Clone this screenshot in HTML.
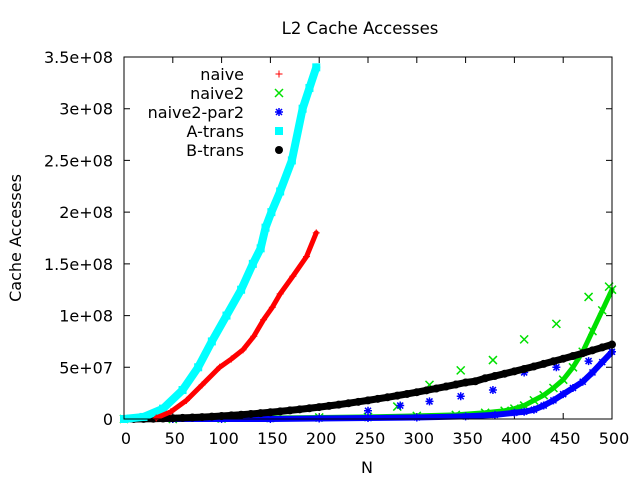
<!DOCTYPE html>
<html><head><meta charset="utf-8"><style>
body{margin:0;background:#fff}
svg{display:block;font-family:"DejaVu Sans","Liberation Sans",sans-serif}
</style></head><body>
<svg id="chart" width="640" height="480">
<rect width="640" height="480" fill="#fff"/>
<text x="360" y="34" font-size="16.5" text-anchor="middle">L2 Cache Accesses</text>
<text x="367" y="473" font-size="16" text-anchor="middle">N</text>
<text transform="translate(21,238) rotate(-90)" font-size="16" text-anchor="middle">Cache Accesses</text>
<g id="axes"></g>
<g id="series"></g>
<rect x="124" y="57" width="488" height="362" fill="none" stroke="#000"/>
<g id="legend"></g>
</svg>
<script>
const xTicks=[0,50,100,150,200,250,300,350,400,450,500];
const yTicks=[0,5e7,1e8,1.5e8,2e8,2.5e8,3e8,3.5e8];
const yTickLabels=["0","5e+07","1e+08","1.5e+08","2e+08","2.5e+08","3e+08","3.5e+08"];
const naiveN=[33,48,64,80,98,110,122,133,143,152,160,173,187,197];
const naiveV=[1,7,18,33,50,58,67,80,96,108,121,138,157,180];
const atransN=[0,20,40,60,76,90,105,120,132,140,145,151,160,172,183,190,197];
const atransV=[0,2,10,28,50,75,100,125,150,165,185,200,220,250,300,320,340];
const btransN=[0,10,20,30,40,50,60,70,80,90,100,110,120,130,140,150,160,170,180,190,200,210,220,230,240,250,260,270,280,290,300,310,320,330,340,350,360,370,380,390,400,410,420,430,440,450,460,470,480,490,500];
const btransV=[0,.03,.12,.26,.46,.72,1.04,1.41,1.84,2.33,2.88,3.48,4.15,4.87,5.64,6.48,7.37,8.32,9.33,10.4,11.5,12.7,13.9,15.2,16.6,18,19.5,21,22.6,24.2,25.9,27.7,29.5,31.4,33.3,35.3,36.5,39.4,41.6,43.8,46.1,48.4,50.8,53.3,55.8,58.3,60.9,63.6,66.4,69.2,72];
const naive2N=[0,50,100,150,200,250,300,340,370,390,400,410,420,430,440,450,460,470,480,490,500];
const naive2V=[0,0,0.5,1,1.5,2,3,4,6,8,10,13,18,23,30,38,50,65,85,105,125];
const naive2OutN=[280,313,345,378,410,443,476,497];
const naive2OutV=[12,33,47,57,77,92,118,128];
const par2N=[0,50,100,150,200,250,300,350,380,400,410,420,430,440,450,460,470,480,490,500];
const par2V=[0,0,0,0,0.5,1,1.5,2.5,4,6,7,9,13,18,24,30,36,45,55,65];
const par2OutN=[250,283,313,345,378,410,443,476];
const par2OutV=[8,13,17,22,28,45,50,56];
const X=n=>124+n*488/500;
const Y=v=>419-v*362/3.5e8;
const M=v=>Y(v*1e6);
const NS="http://www.w3.org/2000/svg";
function mk(tag,attrs,parent){const e=document.createElementNS(NS,tag);for(const k in attrs)e.setAttribute(k,attrs[k]);parent.appendChild(e);return e;}
const axes=document.getElementById('axes');
xTicks.forEach(t=>{
  const x=X(t);
  const l=mk('path',{d:`M${x},419v-6M${x},57v6`,stroke:'#000'},axes);
  
  
  const tx=mk('text',{x:x+2,y:444,'font-size':16,'text-anchor':'middle'},axes);
  tx.textContent=t;
  
  
});
yTicks.forEach((t,i)=>{
  const y=Y(t);
  const l=mk('path',{d:`M124,${y}h6M612,${y}h-6`,stroke:'#000'},axes);
  
  
  const tx=mk('text',{x:113,y:y+6,'font-size':16,'text-anchor':'end'},axes);
  tx.textContent=yTickLabels[i];
  
  
});
const sg=document.getElementById('series');
function line(ns,vs,color,w,name){
  const d=ns.map((n,i)=>(i?'L':'M')+X(n)+','+M(vs[i])).join('');
  const p=mk('path',{d:d,fill:'none',stroke:color,'stroke-width':w,'stroke-linecap':'round','stroke-linejoin':'round'},sg);
  
  
}
function marker(type,x,y,color,g){
  let e;
  if(type==='plus')e=mk('path',{d:`M${x-3.5},${y}h7M${x},${y-3.5}v7`,stroke:color},g);
  else if(type==='x')e=mk('path',{d:`M${x-4},${y-4}l8,8M${x-4},${y+4}l8,-8`,stroke:color,'stroke-width':1.5},g);
  else if(type==='star')e=mk('path',{d:`M${x-4},${y}h8M${x},${y-4}v8M${x-3},${y-3}l6,6M${x-3},${y+3}l6,-6`,stroke:color,'stroke-width':1.5},g);
  else if(type==='sq')e=mk('rect',{x:x-4,y:y-4,width:8,height:8,fill:color},g);
  else e=mk('circle',{cx:x,cy:y,r:4,fill:color},g);
  return e;
}
function points(ns,vs,type,color,name){
  ns.forEach((n,i)=>{
    const e=marker(type,X(n),M(vs[i]),color,sg);
    
    
  });
}
line(naive2N,naive2V,'#00e000',5,'naive2-line');
points(naive2N,naive2V,'x','#00e000','naive2-point');
points(naive2OutN,naive2OutV,'x','#00e000','naive2-outlier');
line(par2N,par2V,'#0000ff',6,'naive2-par2-line');
points(par2N,par2V,'star','#0000ff','naive2-par2-point');
points(par2OutN,par2OutV,'star','#0000ff','naive2-par2-outlier');
line(btransN,btransV,'#000',7,'b-trans-line');
points(btransN,btransV,'dot','#000','b-trans-point');
line(atransN,atransV,'#00ffff',8,'a-trans-line');
points(atransN,atransV,'sq','#00ffff','a-trans-point');
line(naiveN,naiveV,'#ff0000',5,'naive-line');
points(naiveN,naiveV,'plus','#ff0000','naive-point');
const lg=document.getElementById('legend');
const entries=[['naive','plus','#ff0000'],['naive2','x','#00e000'],['naive2-par2','star','#0000ff'],['A-trans','sq','#00ffff'],['B-trans','dot','#000']];
entries.forEach((en,i)=>{
  const y=74+i*19;
  const g=mk('g',{},lg);
  
  
  const t=mk('text',{x:244,y:y+6,'font-size':16,'text-anchor':'end'},g);
  t.textContent=en[0];
  marker(en[1],279,y,en[2],g);
});
</script>
</body></html>
